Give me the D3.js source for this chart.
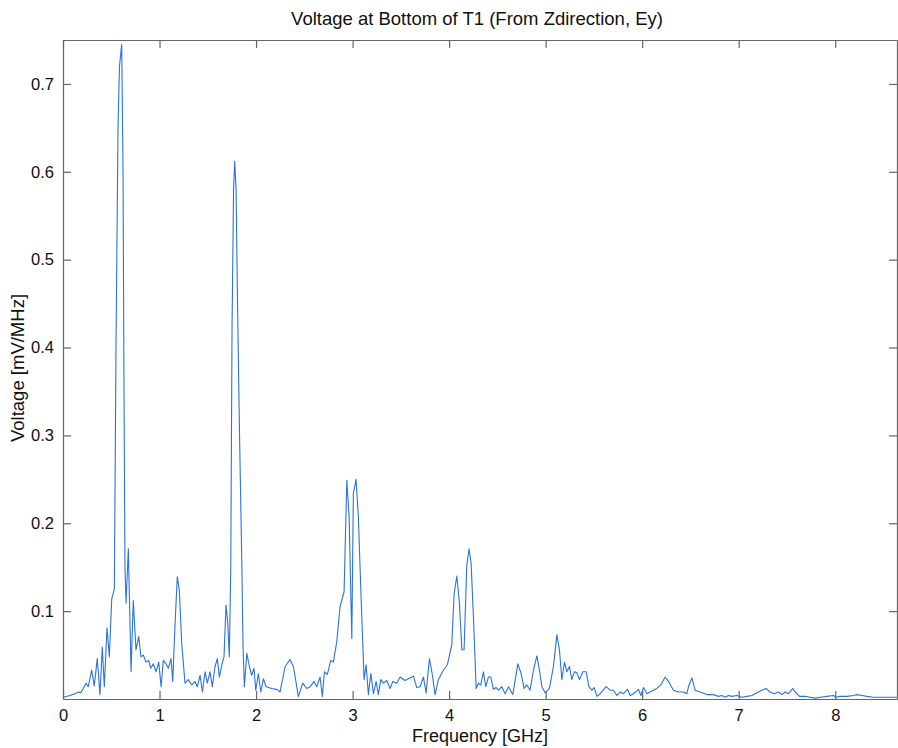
<!DOCTYPE html>
<html>
<head>
<meta charset="utf-8">
<script src="https://d3js.org/d3.v7.min.js"></script>
<style>
  body { margin: 0; background: #fff; }
  text { font-family: "Liberation Sans", Arial, sans-serif; fill: #111; }
</style>
</head>
<body>
<div id="canvas"></div>
<script>
// frequency in GHz
const freq = [
  0, .073, .124, .159, .183, .210, .238, .262, .297, .324, .355, .383, .407, .428, .456, .480, .505, .532,
  .549, .570, .585, .608, .622, .632, .642, .653, .677, .705, .728, .756, .784, .808, .832, .860, .888, .909,
  .936, .964, .992, 1.016, 1.039, 1.067, 1.091, 1.119, 1.137, 1.161, 1.184, 1.205, 1.230, 1.264, 1.298, 1.334,
  1.368, 1.392, 1.420, 1.444, 1.472, 1.495, 1.523, 1.547, 1.575, 1.599, 1.620, 1.648, 1.668, 1.689, 1.707, 1.723,
  1.738, 1.751, 1.767, 1.779, 1.793, 1.808, 1.829, 1.852, 1.865, 1.879, 1.904, 1.931, 1.955, 1.979, 1.997, 2.024,
  2.049, 2.076, 2.104, 2.163, 2.215, 2.249, 2.301, 2.352, 2.387, 2.438, 2.484, 2.525, 2.560, 2.601, 2.629, 2.663,
  2.687, 2.708, 2.739, 2.774, 2.801, 2.836, 2.870, 2.912, 2.940, 2.964, 2.992, 3.008, 3.036, 3.060, 3.088, 3.119,
  3.140, 3.164, 3.189, 3.216, 3.244, 3.267, 3.292, 3.319, 3.354, 3.389, 3.417, 3.458, 3.492, 3.544, 3.578, 3.630,
  3.665, 3.699, 3.734, 3.762, 3.796, 3.824, 3.855, 3.889, 3.941, 3.982, 4.028, 4.052, 4.080, 4.107, 4.132, 4.155,
  4.183, 4.207, 4.228, 4.252, 4.280, 4.304, 4.328, 4.355, 4.380, 4.407, 4.432, 4.459, 4.487, 4.511, 4.546, 4.580,
  4.615, 4.660, 4.712, 4.746, 4.777, 4.805, 4.839, 4.874, 4.909, 4.936, 4.961, 4.995, 5.039, 5.081, 5.116, 5.143,
  5.168, 5.195, 5.220, 5.247, 5.271, 5.298, 5.323, 5.350, 5.385, 5.420, 5.448, 5.479, 5.503, 5.531, 5.565, 5.627,
  5.668, 5.703, 5.738, 5.772, 5.806, 5.848, 5.876, 5.910, 5.962, 5.987, 6.013, 6.049, 6.101, 6.152, 6.194, 6.238,
  6.273, 6.324, 6.376, 6.428, 6.463, 6.480, 6.515, 6.549, 6.601, 6.670, 6.739, 6.791, 6.826, 6.860, 6.894, 6.930,
  6.981, 7.033, 7.085, 7.137, 7.189, 7.240, 7.282, 7.326, 7.368, 7.412, 7.448, 7.482, 7.516, 7.562, 7.585, 7.630,
  7.689, 7.741, 7.793, 7.845, 7.914, 7.982, 8.010, 8.052, 8.121, 8.190, 8.224, 8.277, 8.329, 8.397, 8.466, 8.536,
  8.604, 8.642
];

// voltage in mV/MHz
const voltage = [
  .002, .004, .006, .008, .007, .012, .018, .014, .033, .015, .046, .005, .059, .014, .081, .048, .114, .125,
  .40, .65, .72, .745, .60, .35, .15, .109, .171, .031, .112, .056, .071, .048, .050, .042, .044, .035,
  .040, .031, .042, .014, .044, .040, .035, .046, .020, .086, .139, .124, .063, .018, .022, .016,
  .020, .014, .027, .008, .031, .018, .031, .014, .037, .046, .025, .040, .048, .107, .086, .048,
  .15, .42, .58, .612, .58, .45, .30, .158, .06, .014, .052, .037, .027, .035, .010, .029,
  .008, .023, .014, .012, .011, .008, .037, .045, .037, .003, .018, .012, .014, .020, .014, .025,
  .003, .031, .028, .044, .042, .065, .105, .122, .249, .207, .069, .234, .250, .207, .116, .022,
  .039, .005, .029, .006, .020, .005, .022, .018, .021, .012, .020, .018, .025, .021, .023, .026,
  .013, .014, .025, .007, .046, .029, .005, .022, .033, .039, .062, .120, .140, .109, .056, .056,
  .152, .171, .154, .093, .012, .018, .016, .031, .014, .025, .025, .011, .013, .010, .014, .006,
  .014, .005, .040, .029, .012, .016, .010, .033, .049, .033, .014, .007, .012, .037, .073, .056,
  .022, .042, .031, .037, .022, .031, .030, .022, .031, .031, .014, .010, .013, .003, .006, .014,
  .010, .010, .004, .008, .006, .011, .004, .006, .011, .004, .013, .006, .009, .012, .016, .025,
  .020, .010, .008, .008, .006, .014, .024, .010, .008, .005, .005, .003, .004, .002, .004, .003,
  .004, .002, .003, .004, .007, .010, .012, .008, .006, .008, .005, .008, .006, .012, .008, .003,
  .003, .002, .001, .002, .003, .004, .002, .003, .003, .004, .005, .004, .003, .002, .002, .002,
  .002, .002
];

const xTicks = [0, 1, 2, 3, 4, 5, 6, 7, 8];
const yTicks = [0.1, 0.2, 0.3, 0.4, 0.5, 0.6, 0.7];

const title = "Voltage at Bottom of T1 (From Zdirection, Ey)";
const xLabel = "Frequency [GHz]";
const yLabel = "Voltage [mV/MHz]";

const width = 898;
const height = 748;
const margin = { top: 40, left: 63, bottom: 49, right: 1 };
const iwidth = width - margin.left - margin.right;
const iheight = height - margin.top - margin.bottom;

const svg = d3.select("#canvas").append("svg")
  .attr("width", width)
  .attr("height", height);

const g = svg.append("g").attr("transform", `translate(${margin.left},${margin.top})`);

const x = d3.scaleLinear().domain([0, 8.64]).range([0, iwidth]);
const y = d3.scaleLinear().domain([0, 0.75]).range([iheight, 0]);

const data = freq.map((f, i) => ({ f: f, v: voltage[i] }));

const tickLen = 8;
const axisColor = "#666";

// frame axes, ticks pointing inward
const axBottom = g.append("g")
  .attr("transform", `translate(0,${iheight})`)
  .call(d3.axisBottom(x).tickValues(xTicks).tickFormat(d3.format("d")).tickSizeInner(-tickLen).tickSizeOuter(0).tickPadding(10));
const axTop = g.append("g")
  .call(d3.axisTop(x).tickValues(xTicks).tickFormat("").tickSizeInner(-tickLen).tickSizeOuter(0));
const axLeft = g.append("g")
  .call(d3.axisLeft(y).tickValues(yTicks).tickFormat(d3.format(".1f")).tickSizeInner(-tickLen).tickSizeOuter(0).tickPadding(9));
const axRight = g.append("g")
  .attr("transform", `translate(${iwidth},0)`)
  .call(d3.axisRight(y).tickValues(yTicks).tickFormat("").tickSizeInner(-tickLen).tickSizeOuter(0));

[axBottom, axTop, axLeft, axRight].forEach(a => {
  a.selectAll("path.domain").attr("stroke", axisColor).attr("stroke-width", 1.2);
  a.selectAll(".tick line").attr("stroke", axisColor).attr("stroke-width", 1.2);
  a.selectAll(".tick text").attr("font-size", 16.5).attr("font-family", "Liberation Sans, Arial, sans-serif").attr("fill", "#111");
});

const line = d3.line()
  .x(d => x(d.f))
  .y(d => y(d.v));

g.append("path")
  .datum(data)
  .attr("fill", "none")
  .attr("stroke", "#2a73e0")
  .attr("stroke-width", 1.1)
  .attr("stroke-linejoin", "round")
  .attr("d", line);

svg.append("text")
  .attr("x", 477)
  .attr("y", 25)
  .attr("text-anchor", "middle")
  .attr("font-size", 18.5)
  .text(title);

svg.append("text")
  .attr("x", 480)
  .attr("y", 742)
  .attr("text-anchor", "middle")
  .attr("font-size", 18)
  .text(xLabel);

svg.append("text")
  .attr("transform", "translate(24,368) rotate(-90)")
  .attr("text-anchor", "middle")
  .attr("font-size", 18.5)
  .text(yLabel);
</script>
</body>
</html>
